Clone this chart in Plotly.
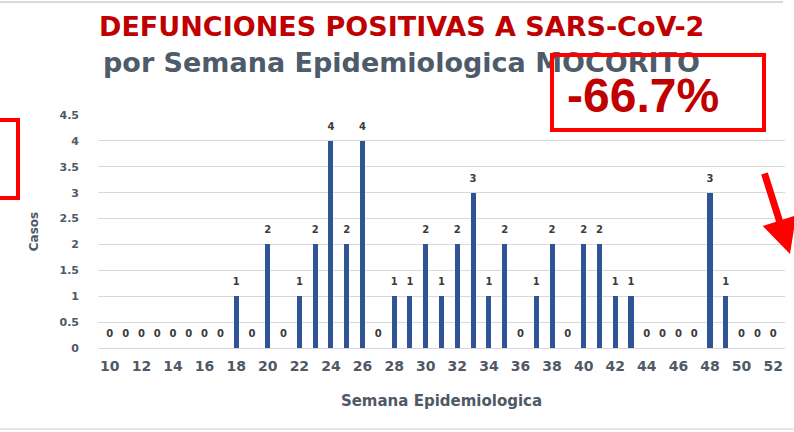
import plotly.graph_objects as go

# Semana epidemiologica 10..52 y defunciones por semana
semanas = list(range(10, 53))
casos = [0, 0, 0, 0, 0, 0, 0, 0,   # 10-17
         1, 0, 2, 0, 1, 2, 4, 2, 4, 0,   # 18-27
         1, 1, 2, 1, 2, 3, 1, 2, 0, 1,   # 28-37
         2, 0, 2, 2, 1, 1, 0, 0, 0, 0,   # 38-47
         3, 1, 0, 0, 0]                  # 48-52
x_ticks = list(range(10, 53, 2))
y_ticks = [0, 0.5, 1, 1.5, 2, 2.5, 3, 3.5, 4, 4.5]

titulo_1 = "DEFUNCIONES POSITIVAS A SARS-CoV-2"
titulo_2 = "por Semana Epidemiologica MOCORITO"
variacion = "-66.7%"

W, H = 794, 432
L, R, T, B = 98, 9, 115, 84
FONT = "DejaVu Sans"
GRIS = "#4F5966"


def px(x):
    return (x - L) / (W - L - R)


def py(y):
    return (H - B - y) / (H - T - B)


fig = go.Figure()
fig.add_trace(go.Bar(
    x=semanas, y=casos, width=0.32,
    marker=dict(color="#2F5496", line=dict(width=0)),
    hoverinfo="x+y",
))
fig.add_trace(go.Scatter(
    x=semanas, y=casos, mode="markers+text",
    text=[str(v) for v in casos], textposition="top center",
    marker=dict(size=12, color="rgba(0,0,0,0)"),
    textfont=dict(family=FONT, size=10, color="#3A3A3A", weight="bold"),
    hoverinfo="skip", cliponaxis=False,
))

fig.update_xaxes(
    range=[9.25, 52.75], tickvals=x_ticks, showgrid=False, zeroline=False,
    tickfont=dict(family=FONT, size=14, color=GRIS, weight="bold"),
    ticklabelstandoff=8,
    title=dict(text="Semana Epidemiologica", standoff=22,
               font=dict(family=FONT, size=15, color=GRIS, weight="bold")),
)
fig.update_yaxes(
    range=[0, 4.5], tickvals=y_ticks, showgrid=True, gridcolor="#D9D9D9",
    gridwidth=1, zeroline=True, zerolinecolor="#D9D9D9", zerolinewidth=1,
    tickfont=dict(family=FONT, size=11, color=GRIS, weight="bold"),
    ticklabelstandoff=18,
    title=dict(text="Casos", standoff=18,
               font=dict(family=FONT, size=12, color=GRIS, weight="bold")),
)

fig.add_annotation(text=titulo_1, x=px(401), y=py(26), xref="paper", yref="paper",
                   xanchor="center", yanchor="middle", showarrow=False,
                   font=dict(family=FONT, size=27, color="#C00000", weight="bold"))
fig.add_annotation(text=titulo_2, x=px(401), y=py(62), xref="paper", yref="paper",
                   xanchor="center", yanchor="middle", showarrow=False,
                   font=dict(family=FONT, size=27, color="#4E5B6B", weight="bold"))

# recuadro rojo (su borde cruza el subtitulo) y la variacion
fig.add_annotation(text="\u00a0", x=px(658), y=py(92.5), xref="paper", yref="paper",
                   xanchor="center", yanchor="middle", showarrow=False,
                   width=208, height=71, borderpad=0, borderwidth=4,
                   bordercolor="#FF0000", bgcolor="rgba(0,0,0,0)")
fig.add_annotation(text=variacion, x=px(643), y=py(95), xref="paper", yref="paper",
                   xanchor="center", yanchor="middle", showarrow=False,
                   font=dict(family="Liberation Sans", size=48, color="#C00000",
                             weight="bold"))
# recuadro cortado a la izquierda
fig.add_shape(type="rect", xref="paper", yref="paper",
              x0=px(-10), x1=px(18), y0=py(198), y1=py(120),
              line=dict(color="#FF0000", width=4), fillcolor="rgba(0,0,0,0)")
# flecha roja
fig.add_annotation(text="", x=px(790), y=py(254), xref="paper", yref="paper",
                   ax=-26, ay=-82, showarrow=True, arrowhead=2, arrowsize=1.0,
                   arrowwidth=7, arrowcolor="#FF0000")

# lineas grises del marco
fig.add_shape(type="line", xref="paper", yref="paper",
              x0=px(0), x1=px(783), y0=py(2), y1=py(2),
              line=dict(color="#D9D9D9", width=2))
fig.add_shape(type="line", xref="paper", yref="paper",
              x0=px(0), x1=px(794), y0=py(429), y1=py(429),
              line=dict(color="#E6E6E6", width=2))

fig.update_layout(
    width=W, height=H,
    margin=dict(l=L, r=R, t=T, b=B),
    plot_bgcolor="white", paper_bgcolor="white",
    showlegend=False, bargap=0,
)

fig.write_html("out.html", config={"displayModeBar": False},
               post_script="document.body.style.margin = '0';")
